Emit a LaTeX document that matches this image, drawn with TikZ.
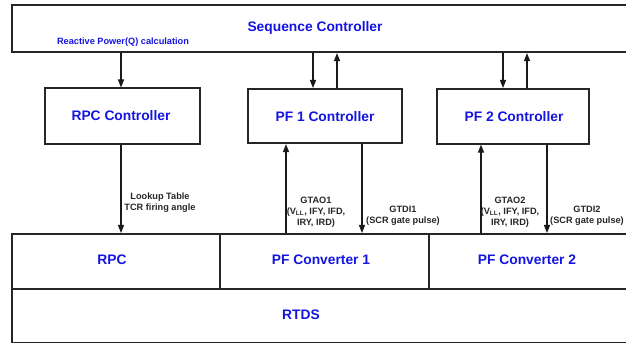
\documentclass[tikz,border=0pt]{standalone}
\usepackage{fontspec}
\setmainfont{Liberation Sans}
\usetikzlibrary{arrows.meta}
\definecolor{lblblue}{RGB}{20,20,225}
\tikzset{
  blk/.style={draw=black!85, line width=1.6pt, rectangle, inner sep=0pt, anchor=north west},
  big/.style={text=lblblue, font=\fontsize{13.8}{15}\selectfont\bfseries, inner sep=0pt},
  small/.style={text=lblblue, font=\fontsize{9.2}{10.5}\selectfont\bfseries, inner sep=0pt},
  note/.style={text=black!85, font=\fontsize{9.2}{10.8}\selectfont\bfseries, inner sep=0pt, align=center},
  arr/.style={draw=black!90, line width=1.3pt, -{Triangle[length=8pt,width=6pt]}}
}
\begin{document}
\begin{tikzpicture}[x=1pt,y=-1pt]
\useasboundingbox (0,0) rectangle (626,344);
\clip (0,0) rectangle (626,344);
% boxes
\node[blk, minimum width=621pt, minimum height=47.5pt] (seq) at (11,4) {};
\node[blk, minimum width=155pt, minimum height=55.5pt] (rpcc) at (44,87.5) {};
\node[blk, minimum width=154pt, minimum height=54.5pt] (pf1c) at (247,88) {};
\node[blk, minimum width=152pt, minimum height=55pt] (pf2c) at (436,88) {};
\node[blk, minimum width=208pt, minimum height=55pt] (rpc) at (11,233) {};
\node[blk, minimum width=209pt, minimum height=55pt] (pfv1) at (219,233) {};
\node[blk, minimum width=204pt, minimum height=55pt] (pfv2) at (428,233) {};
\node[blk, minimum width=621pt, minimum height=53.5pt] (rtds) at (11,288) {};
% texts
\node[big] (tseq) at (315,28) {Sequence Controller};
\node[small] (tq) at (123,42) {Reactive Power(Q) calculation};
\node[big] (trpcc) at (121,116) {RPC Controller};
\node[big] (tpf1c) at (325,117) {PF 1 Controller};
\node[big] (tpf2c) at (514,117) {PF 2 Controller};
\node[big] (trpc) at (112,260) {RPC};
\node[big] (tpfv1) at (321,260) {PF Converter 1};
\node[big] (tpfv2) at (527,260) {PF Converter 2};
\node[big] (trtds) at (301,315) {RTDS};
% x positions of connectors
\coordinate (xa) at (121,0);
\coordinate (xb) at (313,0);
\coordinate (xc) at (337,0);
\coordinate (xd) at (503,0);
\coordinate (xe) at (527,0);
\coordinate (xf) at (286,0);
\coordinate (xg) at (362,0);
\coordinate (xh) at (481,0);
\coordinate (xi) at (547,0);
% connectors top
\draw[arr] (seq.south -| xa) -- (rpcc.north -| xa);
\draw[arr] (seq.south -| xb) -- (pf1c.north -| xb);
\draw[arr] (pf1c.north -| xc) -- (seq.south -| xc);
\draw[arr] (seq.south -| xd) -- (pf2c.north -| xd);
\draw[arr] (pf2c.north -| xe) -- (seq.south -| xe);
% connectors bottom
\draw[arr] (rpcc.south -| xa) -- (rpc.north -| xa);
\draw[arr] (pfv1.north -| xf) -- (pf1c.south -| xf);
\draw[arr] (pf1c.south -| xg) -- (pfv1.north -| xg);
\draw[arr] (pfv2.north -| xh) -- (pf2c.south -| xh);
\draw[arr] (pf2c.south -| xi) -- (pfv2.north -| xi);
% connector labels
\node[note] (l1) at (160,203) {Lookup Table\\TCR firing angle};
\node[note] (l2) at (316,212) {GTAO1\\(V\textsubscript{LL}, IFY, IFD,\\IRY, IRD)};
\node[note] (l3) at (403,216) {GTDI1\\(SCR gate pulse)};
\node[note] (l4) at (510,212) {GTAO2\\(V\textsubscript{LL}, IFY, IFD,\\IRY, IRD)};
\node[note] (l5) at (587,216) {GTDI2\\(SCR gate pulse)};
\end{tikzpicture}
\end{document}
